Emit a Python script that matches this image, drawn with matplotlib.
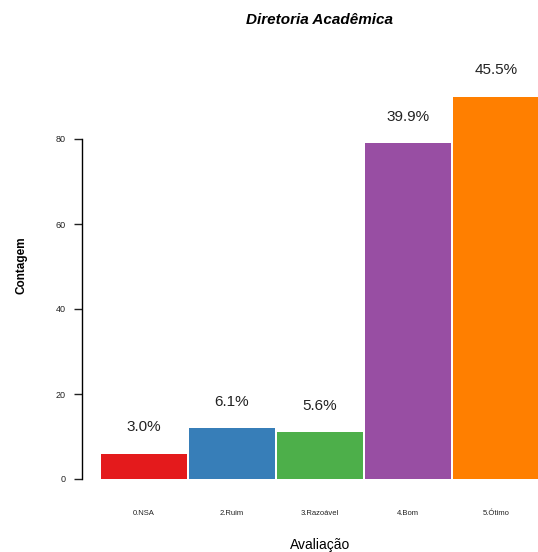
import matplotlib
matplotlib.use("Agg")
import matplotlib.pyplot as plt
import numpy as np

categories = ["0.NSA", "2.Ruim", "3.Razoável", "4.Bom", "5.Ótimo"]
counts = [6, 12, 11, 79, 90]
percent_labels = ["3.0%", "6.1%", "5.6%", "39.9%", "45.5%"]
colors = ["#E41A1C", "#377EB8", "#4DAF4A", "#984EA3", "#FF7F00"]
y_ticks = [0, 20, 40, 60, 80]

W, H = 538, 552
fig = plt.figure(figsize=(W / 100, H / 100), dpi=100)
plt.rcParams['font.family'] = ['Liberation Sans', 'DejaVu Sans']

# axes in pixel coords: left 82, right 538, bottom y=479, top y=139
ax = fig.add_axes([82 / W, (H - 479) / H, (538 - 82) / W, (479 - 139) / H])
step = 88 / 86
x = np.arange(len(categories)) * step + 0.5
ax.bar(x, counts, width=1.0, color=colors, edgecolor="none", clip_on=False)
ax.set_xlim(-19 / 86, (538 - 101) / 86)
ax.set_ylim(0, 80)

for xi, c, lab in zip(x, counts, percent_labels):
    ax.annotate(lab, (xi, c), xytext=(0, 19), textcoords="offset points",
                ha="center", va="center", fontsize=11, color="#222222",
                annotation_clip=False)

for s in ["top", "right", "bottom"]:
    ax.spines[s].set_visible(False)
ax.spines["left"].set_bounds(0, 80)
ax.spines["left"].set_linewidth(1.0)
ax.set_yticks(y_ticks)
ax.tick_params(axis="y", length=6, width=1.0, pad=6, labelsize=6.5, colors="#222222")
ax.set_xticks(x)
ax.set_xticklabels(categories)
ax.tick_params(axis="x", length=0, pad=22, labelsize=5.5, colors="#222222")

fig.text(320 / W, 1 - 20 / H, "Diretoria Acadêmica", ha="center", va="center",
         fontsize=11, fontweight="bold", fontstyle="italic")
fig.text(320 / W, 1 - 545 / H, "Avaliação", ha="center", va="center", fontsize=10)
fig.text(22 / W, 1 - 265 / H, "Contagem", ha="center", va="center", rotation=90,
         fontsize=8.5, fontweight="bold")

fig.savefig("out.png", dpi=100)
